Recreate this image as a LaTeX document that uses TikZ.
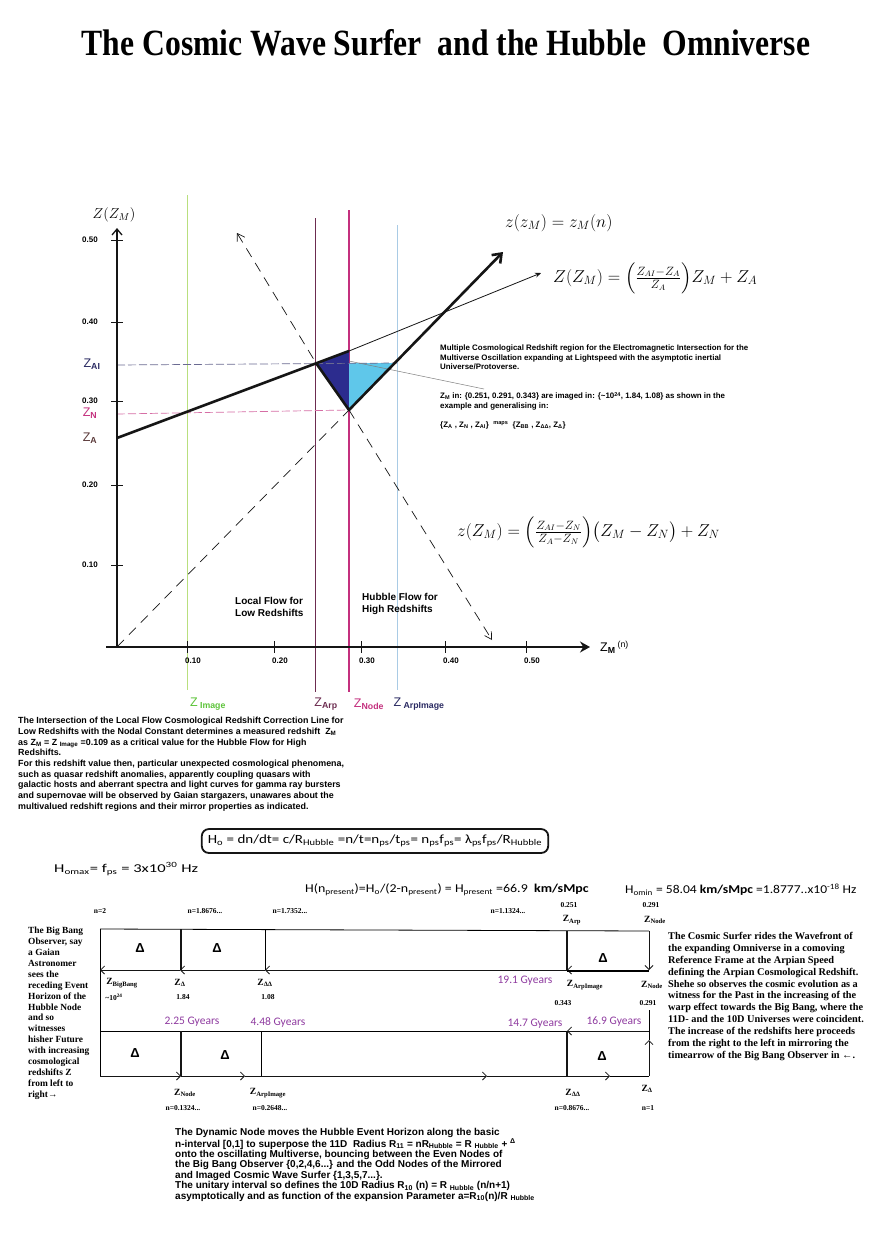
\documentclass[tikz,border=0pt]{standalone}
\usepackage{fontspec}
\usepackage{amsmath,graphicx}
\usetikzlibrary{arrows.meta,calc}
\setmainfont{Liberation Serif}
\setsansfont{Liberation Sans}
\newfontfamily\hand{Carlito}
\definecolor{ink}{HTML}{151515}
\definecolor{lime}{HTML}{B9DF7E}
\definecolor{limetx}{HTML}{5DC43A}
\definecolor{arp}{HTML}{6C2C50}
\definecolor{nod}{HTML}{C4307E}
\definecolor{sky}{HTML}{A9CBE5}
\definecolor{navy}{HTML}{2A2A62}
\definecolor{deep}{HTML}{2C2C8E}
\definecolor{aqua}{HTML}{5FC7EA}
\definecolor{gyr}{HTML}{8F3BA0}
\definecolor{brn}{HTML}{5B3A3A}
\newcommand\lw[1]{\textsubscript{#1}}
\newcommand\lwb[1]{\textsubscript{\bfseries #1}}
\newcommand\hi[1]{\textsuperscript{#1}}
\tikzset{axis/.style={draw=ink,line width=1.3pt},
  surf/.style={draw=ink,line width=2.6pt,line join=round},
  guide/.style={draw=ink,line width=.7pt,dash pattern=on 10pt off 7pt},
  zl/.style={line width=.9pt},
  tk/.style={font=\sffamily\bfseries\fontsize{8}{8}\selectfont,inner sep=1pt},
  zlab/.style={font=\sffamily\fontsize{12.5}{12.5}\selectfont,inner sep=0pt},
  hw/.style={font=\fontsize{17}{17}\selectfont,inner sep=0pt,anchor=west},
  para/.style={font=\sffamily\bfseries\fontsize{8.9}{10.7}\selectfont,align=left,anchor=north west,inner sep=0pt},
  small/.style={para,font=\sffamily\bfseries\fontsize{7.9}{9.2}\selectfont},
  serif/.style={font=\bfseries\fontsize{9.4}{10.9}\selectfont,align=left,anchor=north west,inner sep=0pt},
  lab/.style={font=\bfseries\fontsize{7.5}{7.5}\selectfont,inner sep=0pt},
  labz/.style={font=\bfseries\fontsize{9.5}{9.5}\selectfont,inner sep=0pt},
  gy/.style={font=\hand\fontsize{11.5}{11.5}\selectfont,text=gyr,inner sep=0pt},
  dl/.style={font=\sffamily\bfseries\fontsize{13}{13}\selectfont,inner sep=0pt},
  flowl/.style={draw=ink,line width=.8pt,-{Straight Barb[length=4pt,width=8pt]}},
  post/.style={draw=ink,line width=2.4pt},
  hx/.style={font=\hand\fontsize{12}{12}\selectfont,inner sep=0pt,anchor=west}}

\begin{document}
\begin{tikzpicture}[x=1pt,y=-1pt]
\useasboundingbox (0,0) rectangle (888,1245);
\fill[white] (0,0) rectangle (888,1245);
\node (title) at (446,43) {\scalebox{.855}[1]{\bfseries\fontsize{37}{37}\selectfont The Cosmic Wave Surfer\ \ and the Hubble\ \ Omniverse}};

% redshift marker lines
\draw[zl,draw=lime] (187,195) -- (187,690);
\draw[zl,draw=arp] (315,218) -- (315,692);
\draw[zl,draw=nod,line width=1.2pt] (349,210) -- (349,692);
\draw[zl,draw=sky,line width=.6pt] (397,225) -- (397,690);
\fill[deep] (316,363) -- (349,351) -- (349,410) -- cycle;
\fill[aqua] (349,363) -- (396,363) -- (349,410) -- cycle;
\draw[navy!70,dash pattern=on 8pt off 3pt,line width=.7pt] (117,365) -- (397,363);
\draw[nod!70,dash pattern=on 8pt off 3pt,line width=.7pt] (117,414) -- (349,410);

% axes
\draw[axis,-{Straight Barb[length=6pt,width=10pt]}] (117,647) -- (117,228);
\draw[axis,-{Stealth[length=10pt,width=11pt]}] (106,647) -- (590,647);
\foreach \y/\t in {565/0.10,485/0.20,401/0.30,322/0.40,240/0.50}{
 \draw[axis,line width=1pt] (111,\y) -- (123,\y);
 \node[tk,anchor=east] (yt\y) at (99,\y) {\t};}
\foreach \x/\t in {187/0.10,274/0.20,361/0.30,445/0.40,526/0.50}{
 \draw[axis,line width=1pt] (\x,641) -- (\x,653);
 \node[tk] (xt\x) at (\x+6,661) {\t};}
\node[zlab,text=navy] (zai) at (92,364) {Z\lwb{AI}};
\node[zlab,text=nod] (zn) at (90,413) {Z\lwb{N}};
\node[zlab,text=brn] (za) at (90,438) {Z\lwb{A}};
\node[font=\fontsize{14}{14}\selectfont] (ytitle) at (114,215) {$Z(Z_M)$};
\node[zlab,anchor=west] (xtitle) at (600,647) {Z\lwb{M}\,\hi{(n)}};
\node[zlab,text=limetx] (zimg) at (208,704) {Z\lwb{ Image}};
\node[zlab,text=arp] (zarp) at (326,704) {Z\lwb{Arp}};
\node[zlab,text=nod] (znode) at (369,704) {Z\lwb{Node}};
\node[zlab,text=navy] (zai2) at (419,704) {Z\lwb{ ArpImage}};

% flows
\draw[guide] (117,647) -- (349,410);
\draw[guide,{Straight Barb[length=7pt,width=9pt]}-] (237,233) -- (316,363);
\draw[guide,-{Straight Barb[length=7pt,width=8pt]}] (349,410) -- (492,640);
\draw[ink,line width=.8pt,-{Stealth[length=6pt,width=5pt]}] (349,351) -- (541,273);
\draw[gray,line width=.5pt] (349,361) -- (484,389);
\draw[surf] (117,438) -- (349,351);
\draw[surf,-{Straight Barb[length=8pt,width=12pt]}] (316,363) -- (349,410) -- (503,252);

\node[hw,font=\fontsize{18}{18}\selectfont] (f1) at (505,223) {$z(z_M)=z_M(n)$};
\node[hw] (f2) at (553,278) {$Z(Z_M)=\Bigl(\frac{Z_{AI}-Z_A}{Z_A}\Bigr)Z_M+Z_A$};
\node[hw] (f3) at (457,532) {$z(Z_M)=\Bigl(\frac{Z_{AI}-Z_N}{Z_A-Z_N}\Bigr)\bigl(Z_M-Z_N\bigr)+Z_N$};

\node[small] (multi) at (440,345) {Multiple Cosmological Redshift region for the Electromagnetic Intersection for the\\Multiverse Oscillation expanding at Lightspeed with the asymptotic inertial\\Universe/Protoverse.};
\node[small] (imaged) at (440,392) {Z\lw{M} in: \{0.251, 0.291, 0.343\} are imaged in: \{\textasciitilde10\hi{24}, 1.84, 1.08\} as shown in the\\example and generalising in:};
\node[small] (maps) at (440,421) {\{Z\lw{A} , Z\lw{N} , Z\lw{AI}\}\ \ \hi{maps}\ \ \{Z\lw{BB} , Z\lw{ΔΔ}, Z\lw{Δ}\}};
\node[para,font=\sffamily\bfseries\fontsize{10}{11.6}\selectfont,anchor=west] (local) at (235,607) {Local Flow for\\Low Redshifts};
\node[para,font=\sffamily\bfseries\fontsize{10}{11.6}\selectfont,anchor=west] (hubble) at (362,604) {Hubble Flow for\\High Redshifts};

\node[para] (intro) at (18,717) {The Intersection of the Local Flow Cosmological Redshift Correction Line for\\
Low Redshifts with the Nodal Constant determines a measured redshift\ \ Z\lw{M}\\
as Z\lw{M} = Z \lw{Image} =0.109 as a critical value for the Hubble Flow for High\\
Redshifts.\\
For this redshift value then, particular unexpected cosmological phenomena,\\
such as quasar redshift anomalies, apparently coupling quasars with\\
galactic hosts and aberrant spectra and light curves for gamma ray bursters\\
and supernovae will be observed by Gaian stargazers, unawares about the\\
multivalued redshift regions and their mirror properties as indicated.};

% Hubble constants
\node[draw=ink,line width=1.8pt,rounded corners=7pt,inner xsep=6pt,inner ysep=6pt,font=\hand\fontsize{12.5}{12.5}\selectfont] (hbox) at (375,841) {\scalebox{1.2}[1]{H\lw{o} = dn/dt= c/R\lw{Hubble} =n/t=n\lw{ps}/t\lw{ps}= n\lw{ps}f\lw{ps}= λ\lw{ps}f\lw{ps}/R\lw{Hubble}}};
\node[hx] (hmax) at (54,869) {\scalebox{1.38}[1]{H\lw{omax}= f\lw{ps} = 3x10\hi{30} Hz}};
\node[hx] (hpres) at (305,890) {\scalebox{1.16}[1]{H(n\lw{present})=H\lw{o}/(2-n\lw{present}) = H\lw{present} =66.9\ \ \textbf{km/sMpc}}};
\node[hx] (hmin) at (625,890) {\scalebox{1.13}[1]{H\lw{omin} = 58.04 \textbf{km/sMpc} =1.8777..x10\hi{-18} Hz}};

% Big Bang observer strip
\draw[line width=.8pt] (100,929) -- (649,931);
\draw[line width=.8pt] (100,929) -- (100,1076);
\foreach \a/\b in {649/567,567/265,265/180,180/100} \draw[flowl] (\a,970) -- (\b,970);
\draw[line width=1.6pt] (567,971) -- (649,971);
\draw[line width=.8pt] (265,929) -- (265,970);
\draw[post] (181,929) -- (181,970);
\draw[post] (567,931) -- (567,970);
\draw[flowl] (649,931) -- (649,970);

% Wave surfer strip
\draw[flowl] (649,1031) -- (567,1031);
\draw[line width=.8pt] (567,1031) -- (100,1031);
\foreach \a/\b in {100/181,181/245,245/487,487/610} \draw[flowl] (\a,1076) -- (\b,1076);
\draw[line width=.8pt] (610,1076) -- (649,1076);
\draw[line width=.8pt] (261,1031) -- (261,1076);
\draw[post] (181,1031) -- (181,1076);
\draw[post] (567,1031) -- (567,1076);
\draw[flowl] (649,1076) -- (649,1040);
\draw[line width=.8pt] (649,1040) -- (649,1010);
\foreach \x/\y in {140/948,217/948,603/958,135/1053,225/1055,602/1056} \node[dl] (d\x) at (\x,\y) {Δ};

\node[lab] (n2) at (100,911) {n=2};
\node[lab] (n18) at (205,911) {n=1.8676...};
\node[lab] (n17) at (290,911) {n=1.7352...};
\node[lab] (n11) at (508,911) {n=1.1324...};
\node[lab] (v251) at (569,905) {0.251};
\node[labz] (zarpb) at (572,920) {Z\lw{Arp}};
\node[lab] (v291) at (651,905) {0.291};
\node[labz] (znodeb) at (655,920) {Z\lw{Node}};
\node[labz] (zbb) at (122,983) {Z\lw{BigBang}};
\node[lab] (v24) at (114,997) {\textasciitilde10\hi{24}};
\node[labz] (zd) at (180,983) {Z\lw{Δ}};
\node[lab] (v184) at (183,997) {1.84};
\node[labz] (zdd) at (265,983) {Z\lw{ΔΔ}};
\node[lab] (v108) at (268,997) {1.08};
\node[labz] (zaib) at (585,985) {Z\lw{ArpImage}};
\node[lab] (v343) at (563,1003) {0.343};
\node[labz] (znodec) at (652,985) {Z\lw{Node}};
\node[lab] (v291b) at (648,1003) {0.291};
\node[gy] (g191) at (525,981) {19.1 Gyears};
\node[gy] (g225) at (192,1022) {2.25 Gyears};
\node[gy] (g448) at (278,1022) {4.48 Gyears};
\node[gy] (g147) at (535,1024) {14.7 Gyears};
\node[gy] (g169) at (614,1022) {16.9 Gyears};
\node[labz] (znoded) at (185,1093) {Z\lw{Node}};
\node[lab] (n1324) at (183,1108) {n=0.1324...};
\node[labz] (zaid) at (268,1093) {Z\lw{ArpImage}};
\node[lab] (n2648) at (270,1108) {n=0.2648...};
\node[labz] (zddd) at (573,1093) {Z\lw{ΔΔ}};
\node[lab] (n8676) at (572,1108) {n=0.8676...};
\node[labz] (zdel) at (647,1089) {Z\lw{Δ}};
\node[lab] (none) at (648,1108) {n=1};

\node[serif] (bbo) at (28,927) {The Big Bang\\Observer, say\\a Gaian\\Astronomer\\sees the\\receding Event\\Horizon of the\\Hubble Node\\and so\\witnesses\\hisher Future\\with increasing\\cosmological\\redshifts Z\\from left to\\right→};
\node[serif,font=\bfseries\fontsize{10.3}{11.9}\selectfont] (surfer) at (668,932) {The Cosmic Surfer rides the Wavefront of\\the expanding Omniverse in a comoving\\Reference Frame at the Arpian Speed\\defining the Arpian Cosmological Redshift.\\Shehe so observes the cosmic evolution as a\\witness for the Past in the increasing of the\\warp effect towards the Big Bang, where the\\11D- and the 10D Universes were coincident.\\The increase of the redshifts here proceeds\\from the right to the left in mirroring the\\timearrow of the Big Bang Observer in ←.};

\node[para,font=\sffamily\bfseries\fontsize{10}{10.4}\selectfont] (dyn) at (175,1128) {The Dynamic Node moves the Hubble Event Horizon along the basic\\
n-interval [0,1] to superpose the 11D\ \ Radius R\lw{11} = nR\lw{Hubble} = R \lw{Hubble} + \hi{Δ}\\
onto the oscillating Multiverse, bouncing between the Even Nodes of\\
the Big Bang Observer \{0,2,4,6...\} and the Odd Nodes of the Mirrored\\
and Imaged Cosmic Wave Surfer \{1,3,5,7...\}.\\
The unitary interval so defines the 10D Radius R\lw{10} (n) = R \lw{Hubble} (n/n+1)\\
asymptotically and as function of the expansion Parameter a=R\lw{10}(n)/R \lw{Hubble}};
\end{tikzpicture}
\end{document}
